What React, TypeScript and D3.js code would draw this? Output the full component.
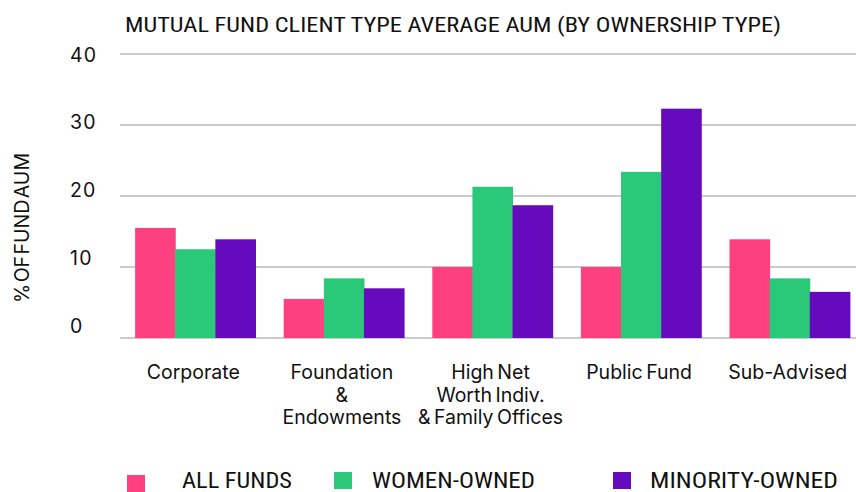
import { scaleBand, scaleLinear } from "d3";

const WIDTH = 856;
const HEIGHT = 492;

const categories = [
  ["Corporate"],
  ["Foundation", "&", "Endowments"],
  ["High Net", "Worth Indiv.", "& Family Offices"],
  ["Public Fund"],
  ["Sub-Advised"],
];
const seriesNames = ["ALL FUNDS", "WOMEN-OWNED", "MINORITY-OWNED"];
const seriesColors = ["#fe4081", "#2ac879", "#650bbd"];
const allFunds = [15.5, 5.5, 10, 10, 13.9];
const womenOwned = [12.5, 8.4, 21.3, 23.4, 8.4];
const minorityOwned = [13.9, 7.0, 18.7, 32.3, 6.5];
const yTicks = [0, 10, 20, 30, 40];

const values = [allFunds, womenOwned, minorityOwned];

// legend placement (swatch x, text x, swatch y, text width)
const legendLayout = [
  { sx: 127, tx: 182, sy: 475, tw: 110 },
  { sx: 334, tx: 372, sy: 472, tw: 163 },
  { sx: 613, tx: 650, sy: 472, tw: 188 },
];

const TEXT_FONT = "Inter, Roboto, 'DejaVu Sans', sans-serif";
const NARROW_FONT = "'Liberation Sans Narrow', 'Roboto Condensed', 'Liberation Sans', sans-serif";

export default function App() {
  const keys = categories.map((c) => c.join(" "));
  const x0 = scaleBand<string>()
    .domain(keys)
    .range([121, 864])
    .paddingInner(0.19)
    .paddingOuter(0.095);
  const x1 = scaleBand<number>()
    .domain([0, 1, 2])
    .range([0, x0.bandwidth()]);
  const y = scaleLinear().domain([0, 40]).range([338, 54]);
  // the tick labels in the source sit on a slightly tighter spacing than the grid
  const yLabel = scaleLinear().domain([0, 40]).range([326, 54.5]);

  return (
    <svg
      width={WIDTH}
      height={HEIGHT}
      style={{ position: "absolute", left: 0, top: 0, background: "#fff" }}
    >
      <text
        x={125}
        y={32}
        fontFamily={NARROW_FONT}
        fontSize={21}
        fill="#111"
        textLength={656}
        lengthAdjust="spacingAndGlyphs"
      >
        MUTUAL FUND CLIENT TYPE AVERAGE AUM (BY OWNERSHIP TYPE)
      </text>

      {yTicks.map((t) => (
        <g key={t}>
          <line x1={120} x2={WIDTH} y1={y(t)} y2={y(t)} stroke="#cbcbcb" strokeWidth={2} />
          <text
            x={70}
            y={yLabel(t)}
            dy="0.36em"
            fontFamily={TEXT_FONT}
            fontSize={19.5}
            letterSpacing={1.2}
            fill="#111"
          >
            {t}
          </text>
        </g>
      ))}

      <text
        transform="translate(29,228) rotate(-90)"
        textAnchor="middle"
        fontFamily={TEXT_FONT}
        fontSize={19.5}
        wordSpacing={-4}
        fill="#111"
        textLength={150}
        lengthAdjust="spacingAndGlyphs"
      >
        % OF FUND AUM
      </text>

      {keys.map((k, i) => (
        <g key={k} transform={`translate(${x0(k)},0)`}>
          {values.map((series, s) => (
            <rect
              key={s}
              x={x1(s)}
              y={y(series[i])}
              width={x1.bandwidth() + 0.5}
              height={y(0) - y(series[i])}
              fill={seriesColors[s]}
            />
          ))}
          {categories[i].map((line, li) => (
            <text
              key={li}
              x={x0.bandwidth() / 2 - 2}
              y={379 + li * 22.5}
              textAnchor="middle"
              fontFamily={TEXT_FONT}
              fontSize={19.5}
              wordSpacing={-2}
              fill="#111"
            >
              {line}
            </text>
          ))}
        </g>
      ))}

      {seriesNames.map((name, s) => (
        <g key={name}>
          <rect
            x={legendLayout[s].sx}
            y={legendLayout[s].sy}
            width={18}
            height={17}
            fill={seriesColors[s]}
          />
          <text
            x={legendLayout[s].tx}
            y={488}
            fontFamily={NARROW_FONT}
            fontSize={22}
            fill="#111"
            textLength={legendLayout[s].tw}
            lengthAdjust="spacingAndGlyphs"
          >
            {name}
          </text>
        </g>
      ))}
    </svg>
  );
}
